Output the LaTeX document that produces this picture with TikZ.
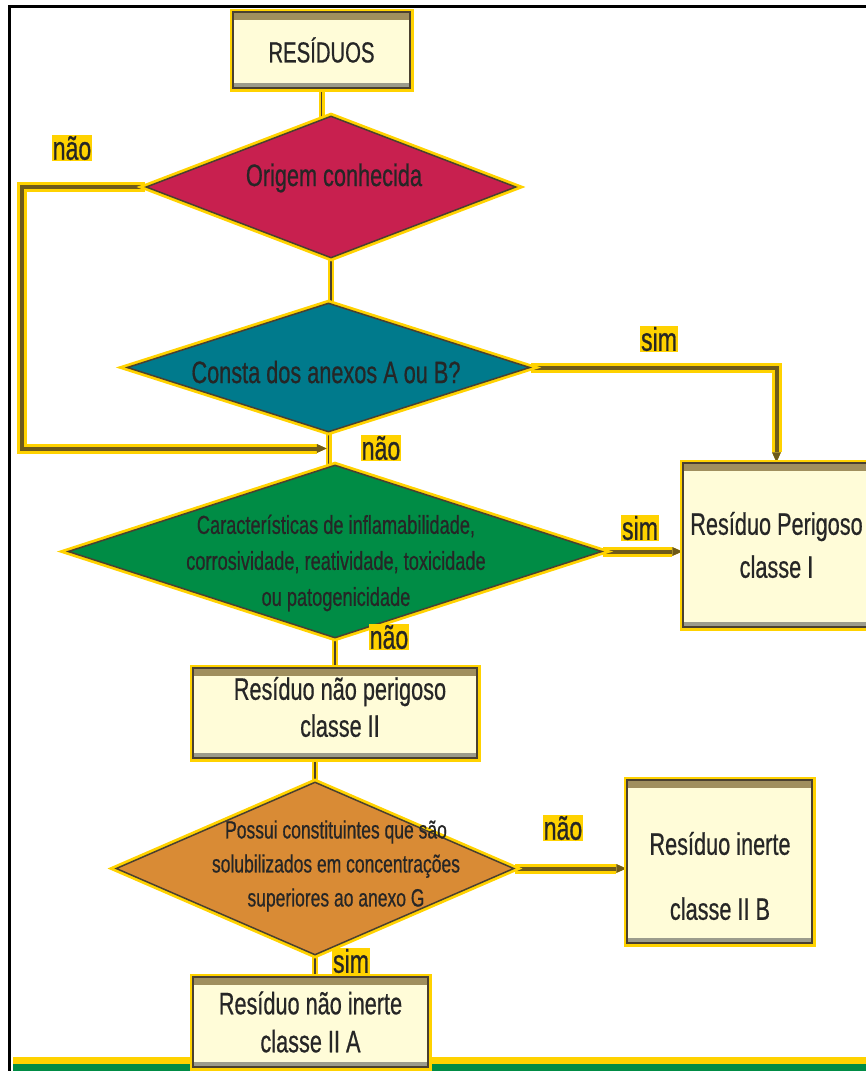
\documentclass[tikz,border=0pt]{standalone}
\usepackage{fontspec}
\setmainfont{Liberation Sans}[FakeStretch=0.7,FakeBold=0.6]
\usetikzlibrary{shapes.geometric,arrows.meta,calc}
\definecolor{glow}{HTML}{FFD200}
\definecolor{edge}{HTML}{4A4030}
\definecolor{boxfill}{HTML}{FFFCD8}
\definecolor{bandtop}{HTML}{A08F5E}
\definecolor{bandbot}{HTML}{9C9C8C}
\definecolor{ccrim}{HTML}{C8204F}
\definecolor{cteal}{HTML}{007A8C}
\definecolor{cgreen}{HTML}{008C45}
\definecolor{corange}{HTML}{D98B35}
\definecolor{conncol}{HTML}{6E5A1A}
\definecolor{ink}{HTML}{262626}
\pgfdeclarelayer{bg}
\pgfsetlayers{bg,main}
\tikzset{
  boxst/.style={draw=edge, line width=1.5pt, fill=boxfill,
    preaction={draw=glow, line width=7pt}, inner sep=0pt, align=center, text=ink,
    font=\fontsize{31}{40}\selectfont,
    path picture={\fill[bandtop] (path picture bounding box.north west) rectangle ([yshift=-8pt]path picture bounding box.north east);
                  \fill[bandbot] (path picture bounding box.south west) rectangle ([yshift=5pt]path picture bounding box.south east);}},
  dia/.style={shape=diamond, draw=edge, line width=1.5pt,
    preaction={draw=glow, line width=7pt}, inner sep=0pt},
  dtext/.style={align=center, text=ink, inner sep=0pt},
  conn/.style={draw=edge, line width=1.8pt, preaction={draw=glow, line width=6pt}},
  thickconn/.style={draw=conncol, line width=4pt, preaction={draw=glow, line width=10pt}},
  tipped/.style={-{Triangle[length=10pt,width=9pt,line width=0pt]}},
  lbl/.style={fill=glow, inner sep=1pt, text=ink, font=\fontsize{33}{33}\selectfont}
}
\begin{document}
\begin{tikzpicture}[x=1pt,y=-1pt]
\useasboundingbox (0,0) rectangle (866,1071);
% frame
\draw[line width=3pt, black] (9,1071) -- (9,6) -- (866,6);
% nodes
\node[boxst, minimum width=177pt, minimum height=76pt, font=\fontsize{29}{29}\selectfont] (res) at (321.5,50) {RESÍDUOS};
\node[dia, fill=ccrim, minimum width=370pt, minimum height=142pt] (d1) at (331,187) {};
\node[dtext, font=\fontsize{31}{31}\selectfont] (d1t) at (334,178) {Origem conhecida};
\node[dia, fill=cteal, minimum width=403pt, minimum height=129pt] (d2) at (328.5,367.5) {};
\node[dtext, font=\fontsize{31}{31}\selectfont] (d2t) at (326,372) {Consta dos anexos A ou B?};
\node[dia, fill=cgreen, minimum width=534pt, minimum height=173pt] (d3) at (335,551.5) {};
\node[dtext, font=\fontsize{26}{36}\selectfont] (d3t) at (336,563) {Características de inflamabilidade,\\corrosividade, reatividade, toxicidade\\ou patogenicidade};
\node[boxst, minimum width=187pt, minimum height=164pt, font=\fontsize{31}{43}\selectfont] (per) at (776.5,545) {Resíduo Perigoso\\classe I};
\node[boxst, minimum width=284pt, minimum height=90pt] (nper) at (335,713) {};
\node[dtext, font=\fontsize{31}{37}\selectfont] (npert) at (340,707) {Resíduo não perigoso\\classe II};
\node[dia, fill=corange, minimum width=398pt, minimum height=173pt] (d4) at (315,868.5) {};
\node[dtext, font=\fontsize{25}{34}\selectfont] (d4t) at (336,866) {Possui constituintes que são\\solubilizados em concentrações\\superiores ao anexo G};
\node[boxst, minimum width=185pt, minimum height=163pt] (ine) at (719.5,861.5) {};
\node[dtext, font=\fontsize{31}{65}\selectfont] (inet) at (720,876) {Resíduo inerte\\classe II B};
\node[boxst, minimum width=235pt, minimum height=90pt, font=\fontsize{31}{38}\selectfont] (nine) at (310.5,1022) {Resíduo não inerte\\classe II A};
\coordinate (mid) at ($(d2.south)!0.5!(d3.north)$);
\coordinate (loopL) at (22,0);
% labels
\node[lbl] (l1) at (72,148) {não};
\node[lbl] (l2) at (659,339) {sim};
\node[lbl] (l3) at (381,448) {não};
\node[lbl] (l4) at (640,528) {sim};
\node[lbl] (l5) at (389,637) {não};
\node[lbl] (l6) at (563,828) {não};
\node[lbl] (l7) at (351,961) {sim};
% connectors and band on background
\begin{pgfonlayer}{bg}
\fill[glow] (13,1057) rectangle (866,1064);
\fill[cgreen] (13,1064) rectangle (866,1071);
\draw[conn] (res.south) -- (res.south |- d1.center);
\draw[conn] (d1.south) -- (d1.south |- d2.center);
\draw[conn] (d2.south) -- (d2.south |- d3.center);
\draw[conn] (d3.south) -- (d3.south |- nper.center);
\draw[conn] (d4.north |- nper.south) -- (d4.center);
\draw[conn] (d4.south) -- (d4.south |- nine.center);
\draw[thickconn, tipped] (d1.west) -| (loopL |- mid) -- ([xshift=-5pt]mid);
\draw[thickconn, tipped] (d2.east) -| (per.north);
\draw[thickconn, tipped] (d3.east) -- (d3.east -| per.west);
\draw[thickconn, tipped] (d4.east) -- (d4.east -| ine.west);
\end{pgfonlayer}
\end{tikzpicture}
\end{document}
